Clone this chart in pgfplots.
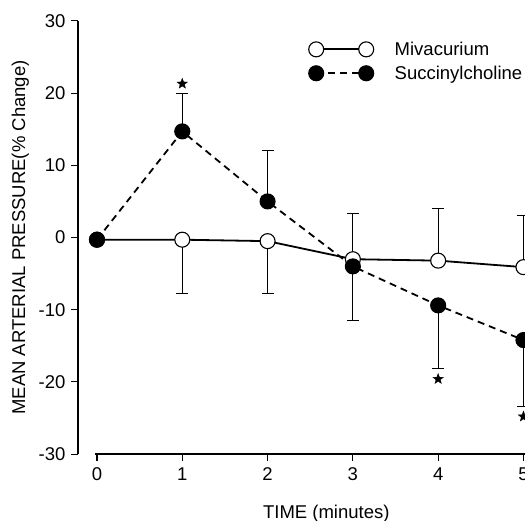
\documentclass[border=0pt]{standalone}
\usepackage{fontspec}
\setmainfont{Liberation Sans}
\usepackage{pgfplots}
\pgfplotsset{compat=1.18}

\pgfdeclareplotmark{fstar}{%
  \pgfpathmoveto{\pgfpointpolar{90}{\pgfplotmarksize}}%
  \pgfpathlineto{\pgfpointpolar{126}{0.42\pgfplotmarksize}}%
  \pgfpathlineto{\pgfpointpolar{162}{\pgfplotmarksize}}%
  \pgfpathlineto{\pgfpointpolar{198}{0.42\pgfplotmarksize}}%
  \pgfpathlineto{\pgfpointpolar{234}{\pgfplotmarksize}}%
  \pgfpathlineto{\pgfpointpolar{270}{0.42\pgfplotmarksize}}%
  \pgfpathlineto{\pgfpointpolar{306}{\pgfplotmarksize}}%
  \pgfpathlineto{\pgfpointpolar{342}{0.42\pgfplotmarksize}}%
  \pgfpathlineto{\pgfpointpolar{18}{\pgfplotmarksize}}%
  \pgfpathlineto{\pgfpointpolar{54}{0.42\pgfplotmarksize}}%
  \pgfpathclose
  \pgfusepathqfillstroke
}

\newcommand{\fs}{\fontsize{18.5}{22}\selectfont}

\begin{document}
\begin{tikzpicture}
\begin{axis}[
  x=85.3pt, y=7.22pt,
  xmin=-0.023, xmax=5.4, ymin=-30, ymax=30,
  axis x line=bottom, axis y line=left,
  axis line style={-, line width=1.5pt},
  axis y line shift=17pt,
  xtick={0,1,2,3,4,5}, ytick={-30,-20,-10,0,10,20,30},
  tick align=outside, major tick length=7pt,
  tick style={line width=1.1pt, black},
  tick label style={font=\fs},
  xticklabel style={yshift=-3pt},
  yticklabel style={xshift=-2pt},
  /pgf/number format/assume math mode=true,
  xlabel={TIME (minutes)},
  ylabel={MEAN ARTERIAL PRESSURE(\% Change)},
  label style={font=\fs},
  xlabel style={yshift=-17pt},
  ylabel style={yshift=3pt},
  clip=false,
  legend style={draw=none, fill=none, at={(axis cs:2.48,27.4)}, anchor=north west,
    inner sep=0pt, row sep=5pt, font=\fs, /tikz/every odd column/.append style={column sep=19pt}},
  legend cell align=left,
  legend image code/.code={%
    \draw[#1, mark=none] (0pt,0pt) -- (50pt,0pt);
    \draw[#1, only marks] plot coordinates {(0pt,0pt) (50pt,0pt)};
  },
]
% error bars (drawn first)
\addplot[only marks, mark=none, forget plot,
  error bars/.cd, y dir=both, y explicit,
  error bar style={draw=black, solid, line width=0.9pt},
  error mark options={rotate=90, mark size=6pt, line width=0.9pt, draw=black}]
  coordinates {
  (1,-0.3) += (0,0) -= (0,7.5)
  (2,-0.5) += (0,0) -= (0,7.3)
  (3,-3.0) += (0,6.3) -= (0,0)
  (4,-3.2) += (0,7.2) -= (0,0)
  (5,-4.1) += (0,7.2) -= (0,0)
  };
\addplot[only marks, mark=none, forget plot,
  error bars/.cd, y dir=both, y explicit,
  error bar style={draw=black, solid, line width=0.9pt},
  error mark options={rotate=90, mark size=6pt, line width=0.9pt, draw=black}]
  coordinates {
  (1,14.7) += (0,5.3) -= (0,0)
  (2,5.0) += (0,7.1) -= (0,0)
  (3,-4.0) += (0,0) -= (0,7.5)
  (4,-9.4) += (0,0) -= (0,8.7)
  (5,-14.2) += (0,0) -= (0,9.2)
  };
\addplot[black, line width=1.8pt, mark=*, mark size=7.5pt,
  mark options={fill=white, solid, line width=1.1pt}]
  coordinates {(0,-0.3) (1,-0.3) (2,-0.5) (3,-3.0) (4,-3.2) (5,-4.1)};
\addlegendentry{Mivacurium}
\addplot[black, line width=1.8pt, dash pattern=on 7pt off 5pt, mark=*, mark size=7.5pt,
  mark options={fill=black, solid, line width=1.1pt}]
  coordinates {(0,-0.3) (1,14.7) (2,5.0) (3,-4.0) (4,-9.4) (5,-14.2)};
\addlegendentry{Succinylcholine}
% significance stars
\addplot[only marks, mark=fstar, mark size=5.5pt, mark options={fill=black, draw=black, line width=0.3pt}, forget plot]
  coordinates {(1,21.3) (4,-19.6) (5,-24.8)};
\coordinate (tl) at (axis cs:-1.137,32.9);
\coordinate (br) at (axis cs:5.018,-39.2);
\end{axis}
\pgfresetboundingbox
\path[use as bounding box] (tl) rectangle (br);
\end{tikzpicture}
\end{document}
